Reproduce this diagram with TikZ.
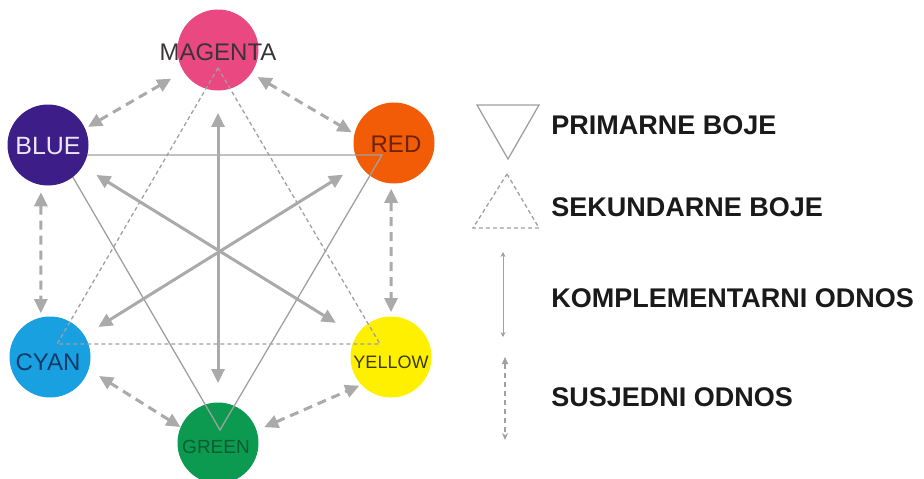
\documentclass[tikz,border=0pt]{standalone}
\usepackage{fontspec}
\setmainfont{Liberation Sans}
\usetikzlibrary{arrows.meta}
\definecolor{cmag}{RGB}{233, 72, 128}
\definecolor{cblue}{RGB}{61, 29, 136}
\definecolor{cred}{RGB}{242, 92, 6}
\definecolor{ccyan}{RGB}{24, 160, 224}
\definecolor{cyell}{RGB}{255, 240, 0}
\definecolor{cgreen}{RGB}{12, 154, 80}
\definecolor{tmag}{RGB}{58, 52, 56}
\definecolor{tblue}{RGB}{236, 230, 247}
\definecolor{tred}{RGB}{110, 34, 6}
\definecolor{tcyan}{RGB}{16, 58, 104}
\definecolor{tyell}{RGB}{60, 58, 0}
\definecolor{tgreen}{RGB}{10, 92, 50}
\definecolor{arrgray}{RGB}{170, 170, 170}
\definecolor{lingray}{RGB}{160, 160, 160}
\definecolor{ink}{RGB}{26, 26, 26}

\begin{document}
\begin{tikzpicture}[x=1pt, y=-1pt, thick,
  ball/.style={circle, minimum size=81pt, inner sep=0pt},
  tag/.style={inner sep=0pt, font=\fontsize{#1}{#1}\selectfont},
  prim/.style={draw=lingray, line width=1.3pt},
  sec/.style={draw=lingray, line width=1.3pt, dash pattern=on 4pt off 3pt},
  compl/.style={draw=arrgray, line width=3pt,
    {Triangle[length=14pt, width=13pt]}-{Triangle[length=14pt, width=13pt]}},
  adj/.style={compl, dash pattern=on 9pt off 6pt},
  legend/.style={anchor=west, inner sep=0pt, text=ink,
    font=\bfseries\fontsize{27}{27}\selectfont}]
  \useasboundingbox (0, 0) rectangle (924, 479);

  \node[ball, fill=cmag] (magenta) at (218, 50) {};
  \node[ball, fill=cred] (red) at (394, 143) {};
  \node[ball, fill=ccyan] (cyan) at (50, 357) {};
  \node[ball, fill=cyell] (yellow) at (391, 357) {};
  \node[ball, fill=cgreen] (green) at (218, 443) {};

  \coordinate (pa) at (60, 155);
  \coordinate (pb) at (382, 155);
  \coordinate (pc) at (220, 430);
  \draw[prim] (pa) -- (pb) -- (pc) -- cycle;
  \coordinate (sa) at (218, 68);
  \coordinate (sb) at (57, 344);
  \coordinate (sc) at (380, 344);
  \draw[sec] (sa) -- (sb) -- (sc) -- cycle;

  \node[ball, fill=cblue] (blue) at (48, 145) {};

  \node[tag=24, text=tmag] (magentatxt) at (218, 52) {MAGENTA};
  \node[tag=25, text=tblue] (bluetxt) at (48, 146) {BLUE};
  \node[tag=24, text=tred] (redtxt) at (396, 144) {RED};
  \node[tag=24, text=tcyan] (cyantxt) at (48, 362) {CYAN};
  \node[tag=18, text=tyell] (yellowtxt) at (391, 362) {YELLOW};
  \node[tag=19, text=tgreen] (greentxt) at (216, 447) {GREEN};

  \draw[compl, shorten <=22pt, shorten >=19pt] (magenta) -- (green);
  \draw[compl, shorten <=16pt, shorten >=24pt] (blue) -- (yellow);
  \draw[compl, shorten <=19pt, shorten >=16pt] (red) -- (cyan);

  \foreach \a/\b/\s/\e in {magenta.212/blue.24/14/3, magenta.325/red.167/7/3,
    blue.260/cyan.103/7/4, red.266/yellow.90/5/4,
    cyan.342/green.157/12/0, green.18/yellow.223/8/2}
    \draw[adj, shorten <=\s pt, shorten >=\e pt] (\a) -- (\b);

  \draw[prim] (477, 105) -- (539, 105) -- (508, 159) -- cycle;
  \draw[sec] (507, 174) -- (539, 228) -- (473, 228) -- cycle;
  \coordinate (k1) at (503, 252);
  \coordinate (k2) at (503, 337);
  \draw[draw=lingray, line width=1pt, {Stealth[length=5pt, width=5pt]}-{Stealth[length=5pt, width=5pt]}] (k1) -- (k2);
  \coordinate (s1) at (505, 357);
  \coordinate (s2) at (505, 440);
  \draw[draw=lingray, line width=1.3pt, dash pattern=on 5pt off 4pt,
    {Triangle[length=7pt, width=6pt]}-{Stealth[length=7pt, width=6pt]}] (s1) -- (s2);

  \node[legend] (primtxt) at (551, 125) {PRIMARNE BOJE};
  \node[legend] (sektxt) at (551, 207) {SEKUNDARNE BOJE};
  \node[legend] (komptxt) at (551, 298) {KOMPLEMENTARNI ODNOS};
  \node[legend] (susjtxt) at (551, 397) {SUSJEDNI ODNOS};
\end{tikzpicture}
\end{document}
